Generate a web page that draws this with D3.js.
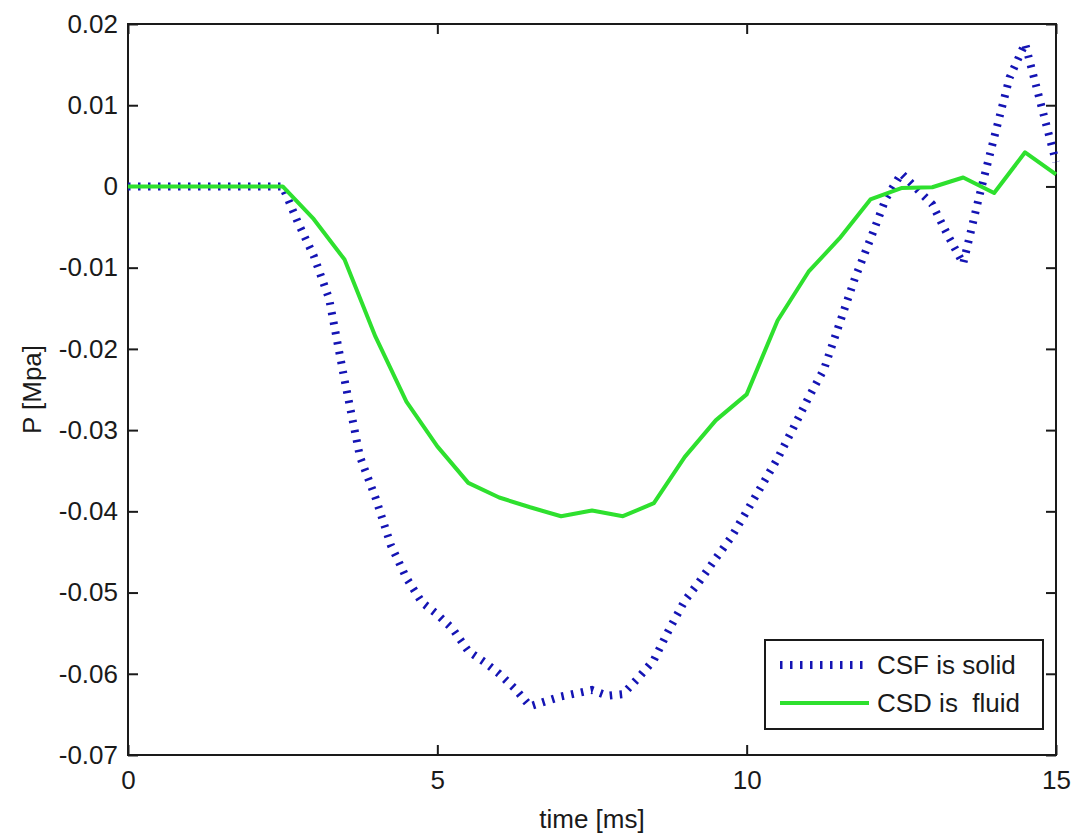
<!DOCTYPE html>
<html>
<head>
<meta charset="utf-8">
<script src="https://cdn.jsdelivr.net/npm/d3@7"></script>
<style>
  html, body { margin: 0; padding: 0; background: #fff; }
  svg text { font-family: "Liberation Sans", Arial, sans-serif; fill: #1a1a1a; white-space: pre; }
</style>
</head>
<body>
<div id="chart"></div>
<script>
// CSF is solid (blue dotted)
const csfTime = [0, 2.5, 2.75, 3.0, 3.25, 3.5, 3.75, 4.0, 4.25, 4.5, 4.75, 5.0, 5.25, 5.5, 5.75, 6.0, 6.25, 6.5, 6.75, 7.0, 7.5, 7.75, 8.0, 8.25, 8.5, 8.75, 9.0, 9.25, 9.5, 9.75, 10.0, 10.5, 10.75, 11.0, 11.25, 11.5, 11.75, 12.0, 12.25, 12.5, 13.0, 13.25, 13.5, 13.75, 14.0, 14.25, 14.5, 14.75, 15.0];
const csfP = [0, 0, -0.0045, -0.0085, -0.0138, -0.0238, -0.0333, -0.0383, -0.0442, -0.0482, -0.0512, -0.0527, -0.0545, -0.0572, -0.0585, -0.0600, -0.0618, -0.0640, -0.0634, -0.0628, -0.0620, -0.0627, -0.0625, -0.0605, -0.0583, -0.0545, -0.0510, -0.0485, -0.0458, -0.0432, -0.0400, -0.0335, -0.0298, -0.0260, -0.0225, -0.0169, -0.0113, -0.0065, -0.0015, 0.0016, -0.0022, -0.0060, -0.0095, -0.0015, 0.0060, 0.0134, 0.0176, 0.0103, 0.0030];

// CSD is fluid (green solid)
const csdTime = [0, 2.5, 3.0, 3.5, 4.0, 4.5, 5.0, 5.5, 6.0, 6.5, 7.0, 7.5, 8.0, 8.5, 9.0, 9.5, 10.0, 10.5, 11.0, 11.5, 12.0, 12.5, 13.0, 13.5, 14.0, 14.5, 15.0];
const csdP = [0, 0, -0.0040, -0.0090, -0.0185, -0.0265, -0.0320, -0.0365, -0.0383, -0.0395, -0.0406, -0.0399, -0.0406, -0.0390, -0.0333, -0.0288, -0.0256, -0.0165, -0.0105, -0.0064, -0.0016, -0.0002, -0.0001, 0.0011, -0.0008, 0.0042, 0.0015];

const xTicks = [0, 5, 10, 15];
const yTicks = [0.02, 0.01, 0, -0.01, -0.02, -0.03, -0.04, -0.05, -0.06, -0.07];
const legendLabels = ["CSF is solid", "CSD is  fluid"];

const COLORS = { blue: "#1414b4", green: "#2ee02e", axis: "#1a1a1a" };

function drawChart({
  selector = "#chart",
  width = 1075,
  height = 837,
  margin = { top: 24, right: 19, bottom: 82, left: 128 }
} = {}) {

  const innerW = width - margin.left - margin.right;
  const innerH = height - margin.top - margin.bottom;

  const svg = d3.select(selector).append("svg")
    .attr("width", width)
    .attr("height", height);

  const g = svg.append("g")
    .attr("transform", `translate(${margin.left},${margin.top})`);

  const x = d3.scaleLinear().domain([0, 15]).range([0, innerW]);
  const y = d3.scaleLinear().domain([-0.07, 0.02]).range([innerH, 0]);

  const tickLen = 10;
  // plain hyphen for negatives, like the original
  const fmtY = d => d === 0 ? "0" : d.toFixed(2);

  // axes (MATLAB box style: inward ticks on all four sides)
  const styleAxis = sel => {
    sel.select(".domain").remove();
    sel.selectAll("line").attr("stroke", COLORS.axis).attr("stroke-width", 2);
    sel.selectAll("text").attr("font-size", 26).attr("fill", "#1a1a1a");
  };

  g.append("g")
    .attr("transform", `translate(0,${innerH})`)
    .call(d3.axisBottom(x).tickValues(xTicks).tickSize(-tickLen).tickPadding(16).tickFormat(d => String(d)))
    .call(styleAxis);

  g.append("g")
    .call(d3.axisTop(x).tickValues(xTicks).tickSize(-tickLen).tickFormat(""))
    .call(styleAxis);

  g.append("g")
    .call(d3.axisLeft(y).tickValues(yTicks).tickSize(-tickLen).tickPadding(10).tickFormat(fmtY))
    .call(styleAxis);

  g.append("g")
    .attr("transform", `translate(${innerW},0)`)
    .call(d3.axisRight(y).tickValues(yTicks).tickSize(-tickLen).tickFormat(""))
    .call(styleAxis);

  g.append("rect")
    .attr("width", innerW)
    .attr("height", innerH)
    .attr("fill", "none")
    .attr("stroke", COLORS.axis)
    .attr("stroke-width", 2);

  // lines
  const line = d3.line()
    .x(d => x(d[0]))
    .y(d => y(d[1]));

  const csf = csfTime.map((t, i) => [t, csfP[i]]);
  const csd = csdTime.map((t, i) => [t, csdP[i]]);

  g.append("path")
    .datum(csf)
    .attr("fill", "none")
    .attr("stroke", COLORS.blue)
    .attr("stroke-width", 8)
    .attr("stroke-dasharray", "2.5,7.5")
    .attr("d", line);

  g.append("path")
    .datum(csd)
    .attr("fill", "none")
    .attr("stroke", COLORS.green)
    .attr("stroke-width", 4)
    .attr("stroke-linejoin", "round")
    .attr("d", line);

  // axis labels
  g.append("text")
    .attr("x", innerW / 2)
    .attr("y", innerH + 73)
    .attr("text-anchor", "middle")
    .attr("font-size", 26)
    .text("time [ms]");

  g.append("text")
    .attr("transform", "rotate(-90)")
    .attr("x", -innerH / 2)
    .attr("y", -87)
    .attr("text-anchor", "middle")
    .attr("font-size", 26)
    .text("P [Mpa]");

  // legend (lower right)
  const lg = svg.append("g").attr("transform", "translate(765,640)");
  lg.append("rect")
    .attr("width", 278)
    .attr("height", 89)
    .attr("fill", "#fff")
    .attr("stroke", COLORS.axis)
    .attr("stroke-width", 2);

  const legendStyles = [
    { color: COLORS.blue, width: 8, dash: "2.5,7.5" },
    { color: COLORS.green, width: 4, dash: null }
  ];

  legendLabels.forEach((label, i) => {
    const cy = 25 + i * 38;
    lg.append("line")
      .attr("x1", 15).attr("x2", 104)
      .attr("y1", cy).attr("y2", cy)
      .attr("stroke", legendStyles[i].color)
      .attr("stroke-width", legendStyles[i].width)
      .attr("stroke-dasharray", legendStyles[i].dash);
    lg.append("text")
      .attr("x", 112)
      .attr("y", cy + 9)
      .attr("font-size", 26)
      .text(label);
  });
}

drawChart();
</script>
</body>
</html>
